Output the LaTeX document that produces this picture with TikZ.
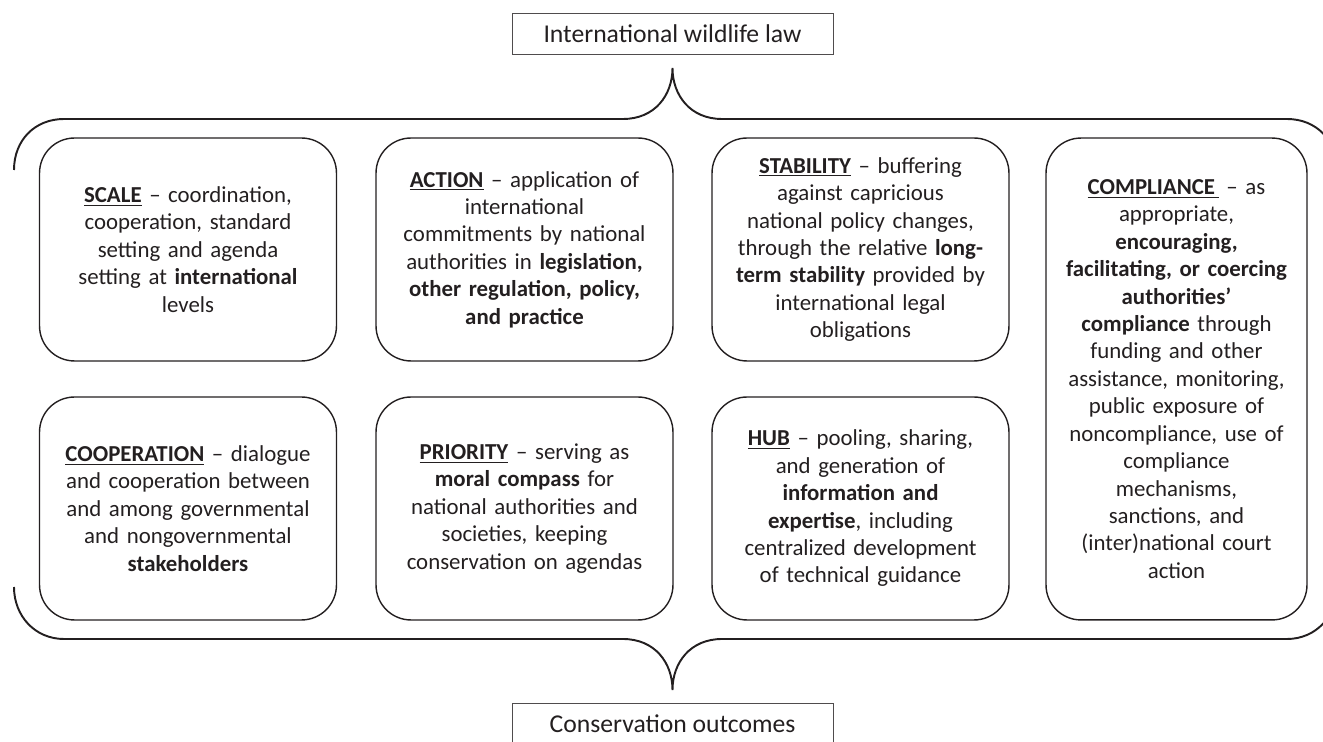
\documentclass[tikz,border=0pt]{standalone}
\usepackage{fontspec}
\setmainfont{Carlito}
\definecolor{inkcol}{HTML}{231F20}
\newcommand\rolehead[1]{\underline{\textbf{#1}}}

\begin{document}
\begin{tikzpicture}[x = 0.02cm, y = -0.02cm,
    every node/.style = {text=inkcol},
    endbox/.style = {draw=inkcol!80, line width=0.5pt,
      minimum width=6.42cm, minimum height=0.82cm, inner sep=0pt,
      font=\fontsize{14.6}{17}\selectfont},
    role/.style = {draw=inkcol, line width=0.8pt, rounded corners=0.7cm,
      minimum width=5.94cm, minimum height=4.46cm, inner sep=0pt,
      text width=5.7cm, align=center, font=\fontsize{13}{15.6}\selectfont},
    tallrole/.style = {role, minimum width=5.22cm, minimum height=9.64cm,
      text width=5cm},
    brace/.style = {draw=inkcol, line width=1.1pt},
  ]
  \useasboundingbox (0,0) rectangle (1323,742);

  \node[endbox] (law) at (672.5,33.5) {International wildlife law};
  \node[endbox] (outcomes) at (672.5,723.5) {Conservation outcomes};

  \node[role] (scale) at (188,249.5) {\rolehead{SCALE} -- coordination,\\
    cooperation, standard\\ setting and agenda\\
    setting at \textbf{international}\\ levels};
  \node[role] (action) at (524.5,249.5) {\rolehead{ACTION} -- application of\\
    international\\ commitments by national\\
    authorities in \textbf{legislation,}\\
    \textbf{other regulation, policy,}\\ \textbf{and practice}};
  \node[role] (stability) at (860.5,249.5) {\rolehead{STABILITY} -- buffering\\
    against capricious\\ national policy changes,\\
    through the relative \textbf{long-}\\
    \textbf{term stability} provided by\\ international legal\\ obligations};
  \node[role] (cooperation) at (188,508.5) {\rolehead{COOPERATION} -- dialogue\\
    and cooperation between\\ and among governmental\\
    and nongovernmental\\ \textbf{stakeholders}};
  \node[role] (priority) at (524.5,508.5) {\rolehead{PRIORITY} -- serving as\\
    \textbf{moral compass} for\\ national authorities and\\
    societies, keeping\\ conservation on agendas};
  \node[role] (hub) at (860.5,508.5) {\rolehead{HUB} -- pooling, sharing,\\
    and generation of\\ \textbf{information and}\\
    \textbf{expertise}, including\\ centralized development\\
    of technical guidance};
  \node[tallrole] (compliance) at (1176.5,379) {\rolehead{COMPLIANCE\,} -- as\\
    appropriate,\\ \textbf{encouraging,}\\
    \textbf{facilitating, or coercing}\\ \textbf{authorities’}\\
    \textbf{compliance} through\\ funding and other\\
    assistance, monitoring,\\ public exposure of\\
    noncompliance, use of\\ compliance\\ mechanisms,\\
    sanctions, and\\ (inter)national court\\ action};

  \coordinate (lawtip) at (672.5,68);
  \coordinate (outtip) at (672.5,690);
  \draw[brace] (14,170) .. controls (14,140) and (35,119) .. (64,119)
    -- (623,119) .. controls (655,119) and (672.5,95) .. (lawtip)
    .. controls (672.5,95) and (690,119) .. (722,119)
    -- (1287,119) .. controls (1316,119) and (1337,140) .. (1337,170);
  \draw[brace] (14,587) .. controls (14,616) and (35,639) .. (64,639)
    -- (623,639) .. controls (655,639) and (672.5,663) .. (outtip)
    .. controls (672.5,663) and (690,639) .. (722,639)
    -- (1287,639) .. controls (1316,639) and (1337,616) .. (1337,587);
\end{tikzpicture}
\end{document}
